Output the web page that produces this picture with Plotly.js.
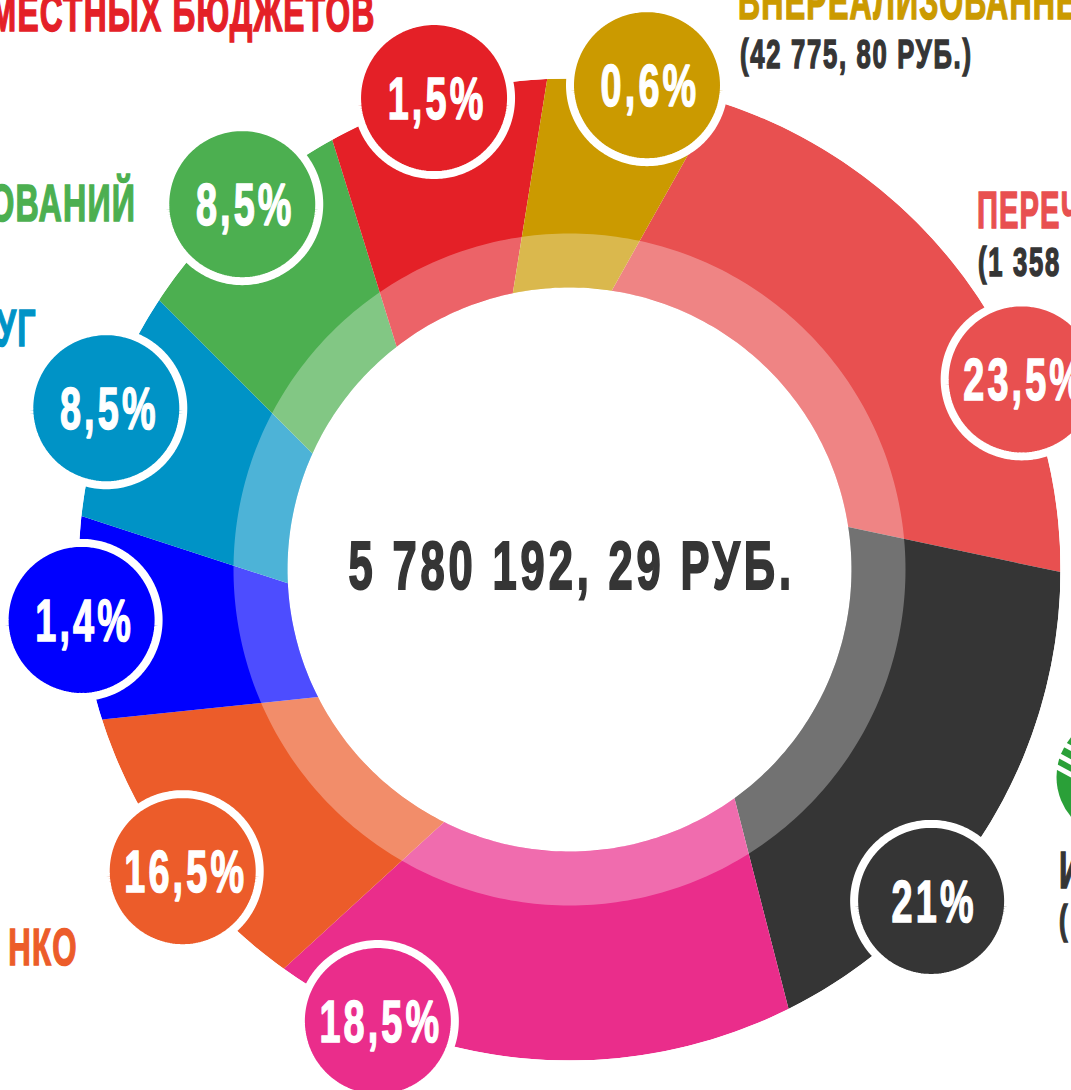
<!DOCTYPE html>
<html><head><meta charset="utf-8">
<script src="https://cdn.plot.ly/plotly-3.0.1.min.js"></script>
<style>html,body{margin:0;padding:0;background:#fff;overflow:hidden}#c{width:1071px;height:1090px}</style>
</head><body><div id="c"></div>
<script>
var shares=["23,5%","21%","18,5%","16,5%","1,4%","8,5%","8,5%","1,5%","0,6%"];
var colors=["#E85050","#353535","#EA2D8B","#EC5C2A","#0000FF","#0093C6","#4CAF50","#E42027","#CB9A00"];
// boundary angle of each wedge (clockwise from top) at the hole edge and at the rim
var startInner=[8.6,81.35,144.2,206.4,243.1,267.2,294.3,322.2,348.4];
var startOuter=[17.6,90.3,153.5,215.6,252.2,276.25,303.3,331.1,357.4];
// badge angle per wedge
var badgeTheta=[67.2,132.5,203,232.05,264.1,289.2,318.15,343.97,9.09];
var rHole=282, rBand=336, rRim=491, rBadge=490.5;
var W=1071,H=1090,cx=569.5,cy=569.5;
var labelText=["МЕСТНЫХ БЮДЖЕТОВ","ОВАНИЙ","УГ","НКО","ВНЕРЕАЛИЗОВАННЕ","(42 775, 80 РУБ.)","ПЕРЕЧ","(1 358","И","("];
var labelX=[377,137,38,79,737,739,976,977,1058,1058];
var labelBase=[33,223,348,967,21,69,230,277,890,935];
var labelColor=["#E42027","#4CAF50","#0093C6","#EC5C2A","#CB9A00","#353535","#E85050","#353535","#353535","#353535"];
var labelSize=[52,52,52,52,52,40,52,40,52,40];
var labelAnchor=["right","right","right","right","left","left","left","left","left","left"];
var labelSqueeze=[0.61,0.62,0.62,0.6,0.59,0.64,0.56,0.64,0.62,0.64];
var totalText="5 780 192, 29 РУБ.";
var FONT='"Liberation Sans",Arial,sans-serif';

function arc(a,b,r,T,R){var n=Math.max(2,Math.ceil(Math.abs(b-a)));for(var i=0;i<=n;i++){T.push(a+(b-a)*i/n);R.push(r);}}
var traces=[];
shares.forEach(function(s,i){
  var j=(i+1)%shares.length;
  var endI=startInner[j]+(j===0?360:0), endO=startOuter[j]+(j===0?360:0);
  var T=[],R=[];
  arc(startOuter[i],endO,rRim,T,R);
  arc(endI,startInner[i],rHole,T,R);
  T.push(T[0]);R.push(R[0]);
  traces.push({type:'scatterpolar',mode:'none',fill:'toself',fillcolor:colors[i],theta:T,r:R,hoverinfo:'skip',showlegend:false});
});
var bT=[],bR=[];arc(0,360,rBand,bT,bR);arc(360,0,rHole,bT,bR);bT.push(bT[0]);bR.push(bR[0]);
traces.push({type:'scatterpolar',mode:'none',fill:'toself',fillcolor:'rgba(255,255,255,0.3)',theta:bT,r:bR,hoverinfo:'skip',showlegend:false});
traces.push({type:'scatterpolar',mode:'markers+text',theta:badgeTheta,r:badgeTheta.map(function(){return rBadge;}),
  text:shares,textposition:'middle center',cliponaxis:false,
  textfont:{family:FONT,size:60,color:'#fff',weight:700},
  marker:{size:154,color:colors,line:{color:'#fff',width:8},opacity:1},hoverinfo:'skip',showlegend:false});

var anns=labelText.map(function(t,i){
  return {xref:'paper',yref:'paper',x:labelX[i]/W,y:1-labelBase[i]/H,xanchor:labelAnchor[i],yanchor:'bottom',yshift:-labelSize[i]*0.2,
    text:t,showarrow:false,align:labelAnchor[i],borderpad:0,font:{family:FONT,size:labelSize[i],color:labelColor[i],weight:700}};
});
anns.push({xref:'paper',yref:'paper',x:571/W,y:1-565/H,xanchor:'center',yanchor:'middle',text:totalText,showarrow:false,font:{family:FONT,size:68,color:'#353535',weight:700}});

function px(x){return x/W;} function py(y){return 1-y/H;}
var logoColor='#2AA038';
var shapes=[{type:'circle',xref:'paper',yref:'paper',x0:px(1056.5),x1:px(1180.5),y0:py(839),y1:py(715),fillcolor:logoColor,line:{width:0}}];
[[766.5,774.5],[754,762],[740,748]].forEach(function(g){
  shapes.push({type:'line',xref:'paper',yref:'paper',x0:px(1050),x1:px(1075),y0:py(g[0]-3.2),y1:py(g[1]+2.2),line:{color:'#fff',width:5}});
});

var layout={width:W,height:H,margin:{l:0,r:0,t:0,b:0},paper_bgcolor:'#fff',showlegend:false,shapes:shapes,
 polar:{domain:{x:[(cx-rRim)/W,(cx+rRim)/W],y:[(H-cy-rRim)/H,(H-cy+rRim)/H]},bgcolor:'rgba(0,0,0,0)',
  radialaxis:{visible:false,range:[0,rRim]},angularaxis:{visible:false,direction:'clockwise',rotation:90}},
 annotations:anns};

// Condense the text horizontally: no condensed face is installed.
function squeeze(el,s,ls,pivot,dx,dy,stroke){
  el.style.letterSpacing=ls+'px';
  var b=el.getBBox();
  var p=pivot==='left'?b.x:pivot==='right'?b.x+b.width:b.x+b.width/2;
  el.setAttribute('transform','translate('+(p+dx)+','+dy+') scale('+s+',1) translate('+(-p)+',0)');
  var f=el.style.fill; el.style.stroke=f; el.style.strokeWidth=stroke+'px'; el.style.paintOrder='stroke';
}
Plotly.newPlot('c',traces,layout,{staticPlot:true,displayModeBar:false}).then(function(){
  document.querySelectorAll('.point').forEach(function(el){
    var r=77,d='';
    for(var k=0;k<180;k++){var a=k*Math.PI/90;d+=(k?'L':'M')+(r*Math.cos(a)).toFixed(2)+','+(r*Math.sin(a)).toFixed(2);}
    el.setAttribute('d',d+'Z');
    el.style.strokeLinejoin='round';
  });
  document.querySelectorAll('.textpoint text').forEach(function(el){squeeze(el,0.63,5,'center',3,6,1.5);});
  document.querySelectorAll('.annotation-text-g text, .annotation text').forEach(function(el){
    var t=el.textContent, i=labelText.indexOf(t);
    if(i>=0) squeeze(el,labelSqueeze[i],labelSize[i]===40?2.7:2,labelAnchor[i],0,0,1.5);
    else squeeze(el,0.64,6,'center',0,0,2);
  });
});
</script></body></html>
